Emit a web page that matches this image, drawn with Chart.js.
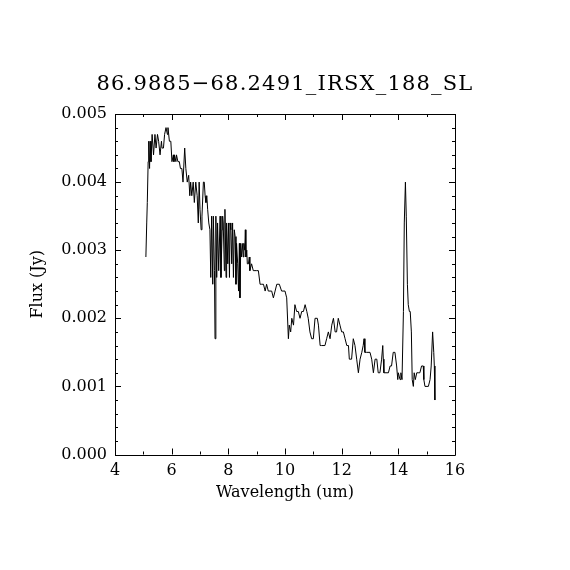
<!DOCTYPE html>
<html>
<head>
<meta charset="utf-8">
<script src="https://cdn.jsdelivr.net/npm/chart.js@4.4.1/dist/chart.umd.min.js"></script>
<style>
  html, body { margin: 0; padding: 0; background: #fff; }
  canvas { display: block; }
</style>
</head>
<body>
<canvas id="spectrumChart" width="570" height="570"></canvas>
<script>
// Spectrum
const wavelength = [
  5.09, 5.12, 5.14, 5.17, 5.19, 5.22, 5.24, 5.27, 5.31, 5.36, 5.41, 5.45, 5.50, 5.54, 5.59, 5.64, 5.66, 5.71,
  5.75, 5.80, 5.85, 5.87, 5.92, 5.97, 6.01, 6.06, 6.08, 6.10, 6.15, 6.17, 6.22, 6.27, 6.31, 6.36, 6.40, 6.46,
  6.50, 6.55, 6.60, 6.64, 6.67, 6.71, 6.76, 6.80, 6.85, 6.90, 6.94, 6.97,
  7.00, 7.04, 7.07, 7.12, 7.15, 7.18, 7.21, 7.24, 7.27, 7.31, 7.35, 7.38, 7.41, 7.45, 7.47, 7.51, 7.53, 7.56,
  7.59, 7.62, 7.66, 7.71, 7.74, 7.78, 7.80, 7.82, 7.86, 7.88, 7.92, 7.94, 7.98, 8.01, 8.04, 8.06, 8.09, 8.12,
  8.15, 8.18, 8.21, 8.24, 8.27, 8.29, 8.33, 8.36, 8.39, 8.41, 8.44, 8.47, 8.51, 8.53, 8.55, 8.58, 8.60, 8.62,
  8.65, 8.67, 8.71, 8.74, 8.76, 8.82, 8.88, 8.94, 9.00, 9.06,
  9.12, 9.18, 9.24, 9.30, 9.35, 9.41, 9.53, 9.59, 9.65, 9.71, 9.80, 9.88, 10.00, 10.06, 10.12, 10.15, 10.20,
  10.24, 10.30, 10.35, 10.41, 10.47, 10.53, 10.59, 10.65, 10.71, 10.77, 10.82, 10.88, 10.94, 11.00, 11.06,
  11.14, 11.18, 11.24, 11.29, 11.41, 11.47, 11.53, 11.59, 11.65, 11.71, 11.77, 11.82, 11.88, 11.94, 12.00,
  12.06, 12.12, 12.18, 12.24, 12.27,
  12.29, 12.35, 12.41, 12.47, 12.53, 12.59, 12.65, 12.71, 12.76, 12.79, 12.82, 12.88, 13.00, 13.06, 13.12,
  13.18, 13.24, 13.29, 13.35, 13.41, 13.45, 13.47, 13.49, 13.65, 13.71, 13.76, 13.82, 13.88, 13.94, 13.98,
  14.00, 14.06, 14.09, 14.13, 14.18, 14.21, 14.25, 14.28, 14.32, 14.35, 14.39, 14.42, 14.46, 14.49, 14.53,
  14.56, 14.60, 14.65, 14.70, 14.76, 14.82, 14.88, 14.90, 14.94, 15.06, 15.12, 15.16, 15.21, 15.25, 15.27, 15.29
];
const flux = [
  0.0029, 0.0034, 0.0037, 0.0043, 0.0046, 0.0042, 0.0046, 0.0043, 0.0047, 0.0044, 0.0047, 0.0045, 0.0047, 0.0046, 0.0044, 0.0046, 0.0045, 0.0045,
  0.0047, 0.0048, 0.0047, 0.0048, 0.0046, 0.0046, 0.0043, 0.0044, 0.0043, 0.0044, 0.0043, 0.0044, 0.0043, 0.0043, 0.0042, 0.0042, 0.0040, 0.0045,
  0.0042, 0.0040, 0.0041, 0.0038, 0.0040, 0.0038, 0.0040, 0.0037, 0.0040, 0.0038, 0.0034, 0.0040,
  0.0036, 0.0033, 0.0035, 0.0040, 0.0040, 0.0038, 0.0037, 0.0038, 0.0036, 0.0034, 0.0033, 0.0026, 0.0035, 0.0025, 0.0035, 0.0027, 0.0017, 0.0035,
  0.0026, 0.0034, 0.0027, 0.0035, 0.0026, 0.0033, 0.0035, 0.0034, 0.0027, 0.0036, 0.0026, 0.0034, 0.0028, 0.0034, 0.0026, 0.0034, 0.0033, 0.0028,
  0.0034, 0.0026, 0.0033, 0.0032, 0.0025, 0.0031, 0.0028, 0.0024, 0.0031, 0.0023, 0.0031, 0.0029, 0.0031, 0.0029, 0.0031, 0.0030, 0.0033, 0.0029,
  0.0030, 0.0028, 0.0028, 0.0029, 0.0027, 0.0028, 0.0027, 0.0027, 0.0027, 0.0027,
  0.0025, 0.0025, 0.0025, 0.0024, 0.0025, 0.0024, 0.0024, 0.0023, 0.0024, 0.0025, 0.0025, 0.0024, 0.0024, 0.0023, 0.0017, 0.0019, 0.0018,
  0.0020, 0.0019, 0.0022, 0.0021, 0.0021, 0.0020, 0.0021, 0.0021, 0.0022, 0.0021, 0.0020, 0.0018, 0.0017, 0.0017, 0.0020,
  0.0020, 0.0019, 0.0016, 0.0016, 0.0016, 0.0017, 0.0018, 0.0017, 0.0019, 0.0020, 0.0018, 0.0018, 0.0020, 0.0019, 0.0018,
  0.0018, 0.0017, 0.0016, 0.0016, 0.0014,
  0.0014, 0.0014, 0.0017, 0.0016, 0.0014, 0.0012, 0.0014, 0.0015, 0.0016, 0.0017, 0.0015, 0.0015, 0.0015, 0.0014, 0.0012,
  0.0014, 0.0014, 0.0012, 0.0012, 0.0014, 0.0016, 0.0014, 0.0012, 0.0012, 0.0013, 0.0013, 0.0015, 0.0015, 0.0013, 0.0011,
  0.0012, 0.0011, 0.0012, 0.0011, 0.0021, 0.0034, 0.0040, 0.0035, 0.0025, 0.0022, 0.0021, 0.0021, 0.0018, 0.0011, 0.0010,
  0.0012, 0.0011, 0.0012, 0.0012, 0.0012, 0.0013, 0.0013, 0.0011, 0.0010, 0.0010, 0.0011, 0.0013, 0.0018, 0.0015, 0.0013, 0.0008
];
const xTicks = [4, 6, 8, 10, 12, 14, 16];
const yTicks = [0.000, 0.001, 0.002, 0.003, 0.004, 0.005];
const chartTitle = '86.9885\u221268.2491_IRSX_188_SL';

const serif = '"DejaVu Serif", "Liberation Serif", serif';

// title centred on the page, not on the plot box
const pageTitle = {
    id: 'pageTitle',
    afterDraw(chart) {
        const c = chart.ctx;
        c.save();
        c.fillStyle = '#000';
        c.font = '21px ' + serif;
        c.letterSpacing = '1.2px';
        c.textAlign = 'center';
        c.textBaseline = 'alphabetic';
        c.fillText(chartTitle, chart.width / 2, 90);
        c.restore();
    }
};

// inward ticks on all four sides plus the box
const frameTicks = {
    id: 'frameTicks',
    afterDatasetsDraw(chart) {
        const {ctx, chartArea: a, scales: {x, y}} = chart;
        ctx.save();
        ctx.strokeStyle = '#000';
        ctx.lineWidth = 1;
        ctx.beginPath();
        ctx.rect(Math.round(a.left) + 0.5, Math.round(a.top) + 0.5,
                 Math.round(a.right - a.left), Math.round(a.bottom - a.top));
        for (let v = xTicks[0]; v <= xTicks[xTicks.length - 1] + 1e-9; v += 1) {
            const px = Math.round(x.getPixelForValue(v)) + 0.5;
            const len = (v % 2 === 0) ? 6 : 3;
            ctx.moveTo(px, a.bottom); ctx.lineTo(px, a.bottom - len);
            ctx.moveTo(px, a.top); ctx.lineTo(px, a.top + len);
        }
        for (let i = 0; i <= 25; i++) {
            const v = i * 0.0002;
            const py = Math.round(y.getPixelForValue(v)) + 0.5;
            const len = (i % 5 === 0) ? 6 : 3;
            ctx.moveTo(a.left, py); ctx.lineTo(a.left + len, py);
            ctx.moveTo(a.right, py); ctx.lineTo(a.right - len, py);
        }
        ctx.stroke();
        ctx.restore();
    }
};

const ctx = document.getElementById('spectrumChart').getContext('2d');
const spectrumChart = new Chart(ctx, {
    type: 'line',
    data: {
        datasets: [{
            data: wavelength.map((w, i) => ({x: w, y: flux[i]})),
            borderColor: '#000',
            borderWidth: 1,
            pointRadius: 0,
            tension: 0,
            fill: false
        }]
    },
    options: {
        responsive: false,
        devicePixelRatio: 1,
        animation: false,
        layout: { padding: { left: 0, top: 114, right: 115, bottom: 0 } },
        scales: {
            x: {
                type: 'linear',
                min: 4,
                max: 16,
                afterFit: s => { s.height = 115.5; },
                afterBuildTicks: s => { s.ticks = xTicks.map(v => ({value: v})); },
                grid: { display: false, drawTicks: false },
                border: { display: false },
                ticks: {
                    color: '#000',
                    padding: 7,
                    maxRotation: 0,
                    font: { family: serif, size: 16 }
                },
                title: {
                    display: true,
                    text: 'Wavelength (um)',
                    color: '#000',
                    font: { family: serif, size: 16 },
                    padding: { top: 0, bottom: 68 }
                }
            },
            y: {
                type: 'linear',
                min: 0,
                max: 0.005,
                afterFit: s => { s.width = 115; },
                afterBuildTicks: s => { s.ticks = yTicks.map(v => ({value: v})); },
                grid: { display: false, drawTicks: false },
                border: { display: false },
                ticks: {
                    color: '#000',
                    padding: 8,
                    font: { family: serif, size: 16 },
                    callback: v => v.toFixed(3)
                },
                title: {
                    display: true,
                    text: 'Flux (Jy)',
                    color: '#000',
                    font: { family: serif, size: 16 },
                    padding: { top: 28, bottom: 0 }
                }
            }
        },
        plugins: {
            legend: { display: false },
            tooltip: { enabled: false },
            title: { display: false }
        }
    },
    plugins: [frameTicks, pageTitle, {
        id: 'whiteBg',
        beforeDraw(chart) {
            const c = chart.ctx;
            c.save();
            c.fillStyle = '#fff';
            c.fillRect(0, 0, chart.width, chart.height);
            c.restore();
        }
    }]
});
</script>
</body>
</html>
